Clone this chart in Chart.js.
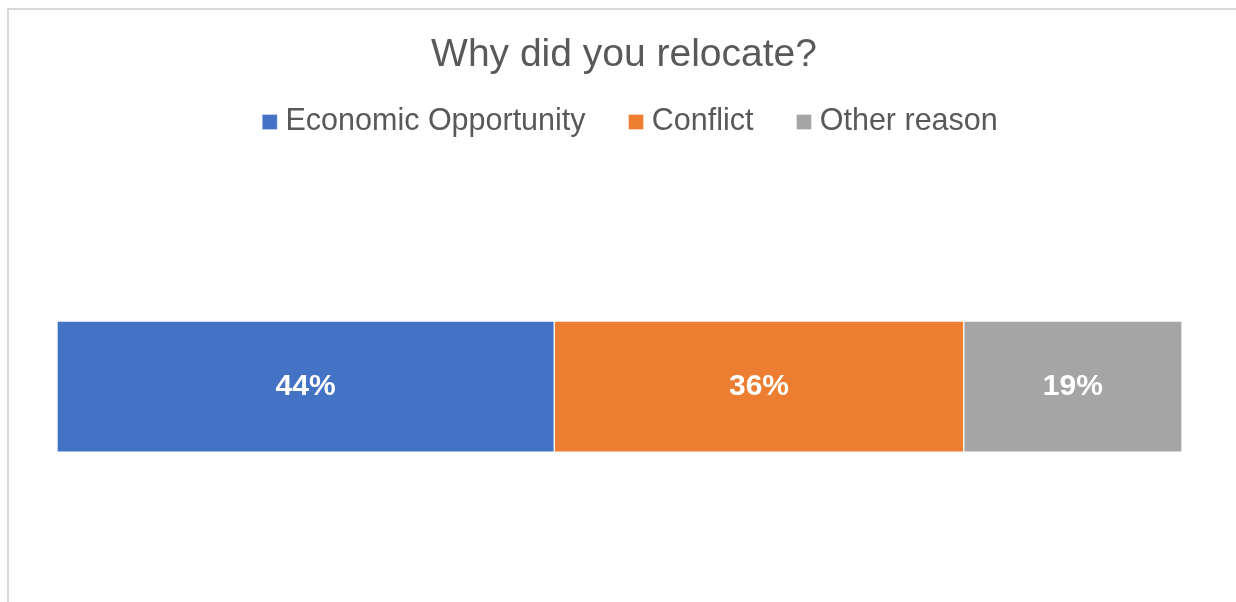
<!DOCTYPE html>
<html>
<head>
<meta charset="utf-8">
<script src="https://cdn.jsdelivr.net/npm/chart.js@4/dist/chart.umd.min.js"></script>
<style>
  html, body { margin: 0; padding: 0; background: #ffffff; overflow: hidden; }
  #page { position: relative; width: 1236px; height: 602px; overflow: hidden; }
  #topline { position: absolute; left: 7px; top: 8px; width: 1229px; height: 2px; background: #d9d9d9; }
  #leftline { position: absolute; left: 7px; top: 8px; width: 2px; height: 594px; background: #d9d9d9; }
  #wrap { position: absolute; left: 0; top: 0; width: 1236px; height: 640px; }
</style>
</head>
<body>
<div id="page">
<div id="topline"></div>
<div id="leftline"></div>
<div id="wrap"><canvas id="c"></canvas></div>
</div>
<script>
// ---- data ----
const chartTitle = 'Why did you relocate?';
const categories = [''];
const seriesNames = ['Economic Opportunity', 'Conflict', 'Other reason'];
const economicOpportunity = [44.2];
const conflict = [36.4];
const otherReason = [19.4];
const seriesColors = ['#4472C4', '#ED7D31', '#A5A5A5'];

const FONT = '"Liberation Sans", Arial, Helvetica, sans-serif';
const TEXT = '#595959';

const seriesValues = [economicOpportunity, conflict, otherReason];
const datasets = seriesNames.map((name, i) => ({
  label: name,
  data: seriesValues[i],
  backgroundColor: seriesColors[i],
  borderColor: 'rgba(255,255,255,0.35)',
  borderWidth: 1,
  borderSkipped: false,
  barThickness: 131
}));

const dataLabels = {
  id: 'dataLabels',
  afterDatasetsDraw(chart) {
    const ctx = chart.ctx;
    ctx.save();
    ctx.font = 'bold 30px ' + FONT;
    ctx.fillStyle = '#ffffff';
    ctx.textAlign = 'center';
    ctx.textBaseline = 'middle';
    chart.data.datasets.forEach((ds, di) => {
      const meta = chart.getDatasetMeta(di);
      meta.data.forEach((el, i) => {
        const p = el.getCenterPoint();
        ctx.fillText(Math.round(ds.data[i]) + '%', p.x, p.y);
      });
    });
    ctx.restore();
  }
};

const shiftBoxes = {
  id: 'shiftBoxes',
  afterLayout(chart) {
    if (chart.legend) { chart.legend.left += 14; chart.legend.right += 14; }
    if (chart.titleBlock) { chart.titleBlock.left += 4.5; chart.titleBlock.right += 4.5; }
  }
};

new Chart(document.getElementById('c'), {
  type: 'bar',
  data: { labels: categories, datasets },
  options: {
    indexAxis: 'y',
    responsive: true,
    maintainAspectRatio: false,
    animation: false,
    devicePixelRatio: 1,
    events: [],
    layout: { padding: { left: 57, right: 54, top: 10, bottom: 14 } },
    scales: {
      x: { stacked: true, min: 0, max: 100, display: false },
      y: { stacked: true, display: false }
    },
    plugins: {
      title: {
        display: true,
        text: chartTitle,
        color: TEXT,
        font: { family: FONT, size: 39, weight: 'normal' },
        padding: { top: 22, bottom: -22 }
      },
      legend: {
        display: true,
        position: 'top',
        labels: {
          color: TEXT,
          font: { family: FONT, size: 30.5 },
          usePointStyle: true,
          pointStyle: 'rect',
          boxWidth: 1,
          boxHeight: 15,
          padding: 50
        }
      },
      tooltip: { enabled: false }
    }
  },
  plugins: [dataLabels, shiftBoxes]
});
</script>
</body>
</html>
